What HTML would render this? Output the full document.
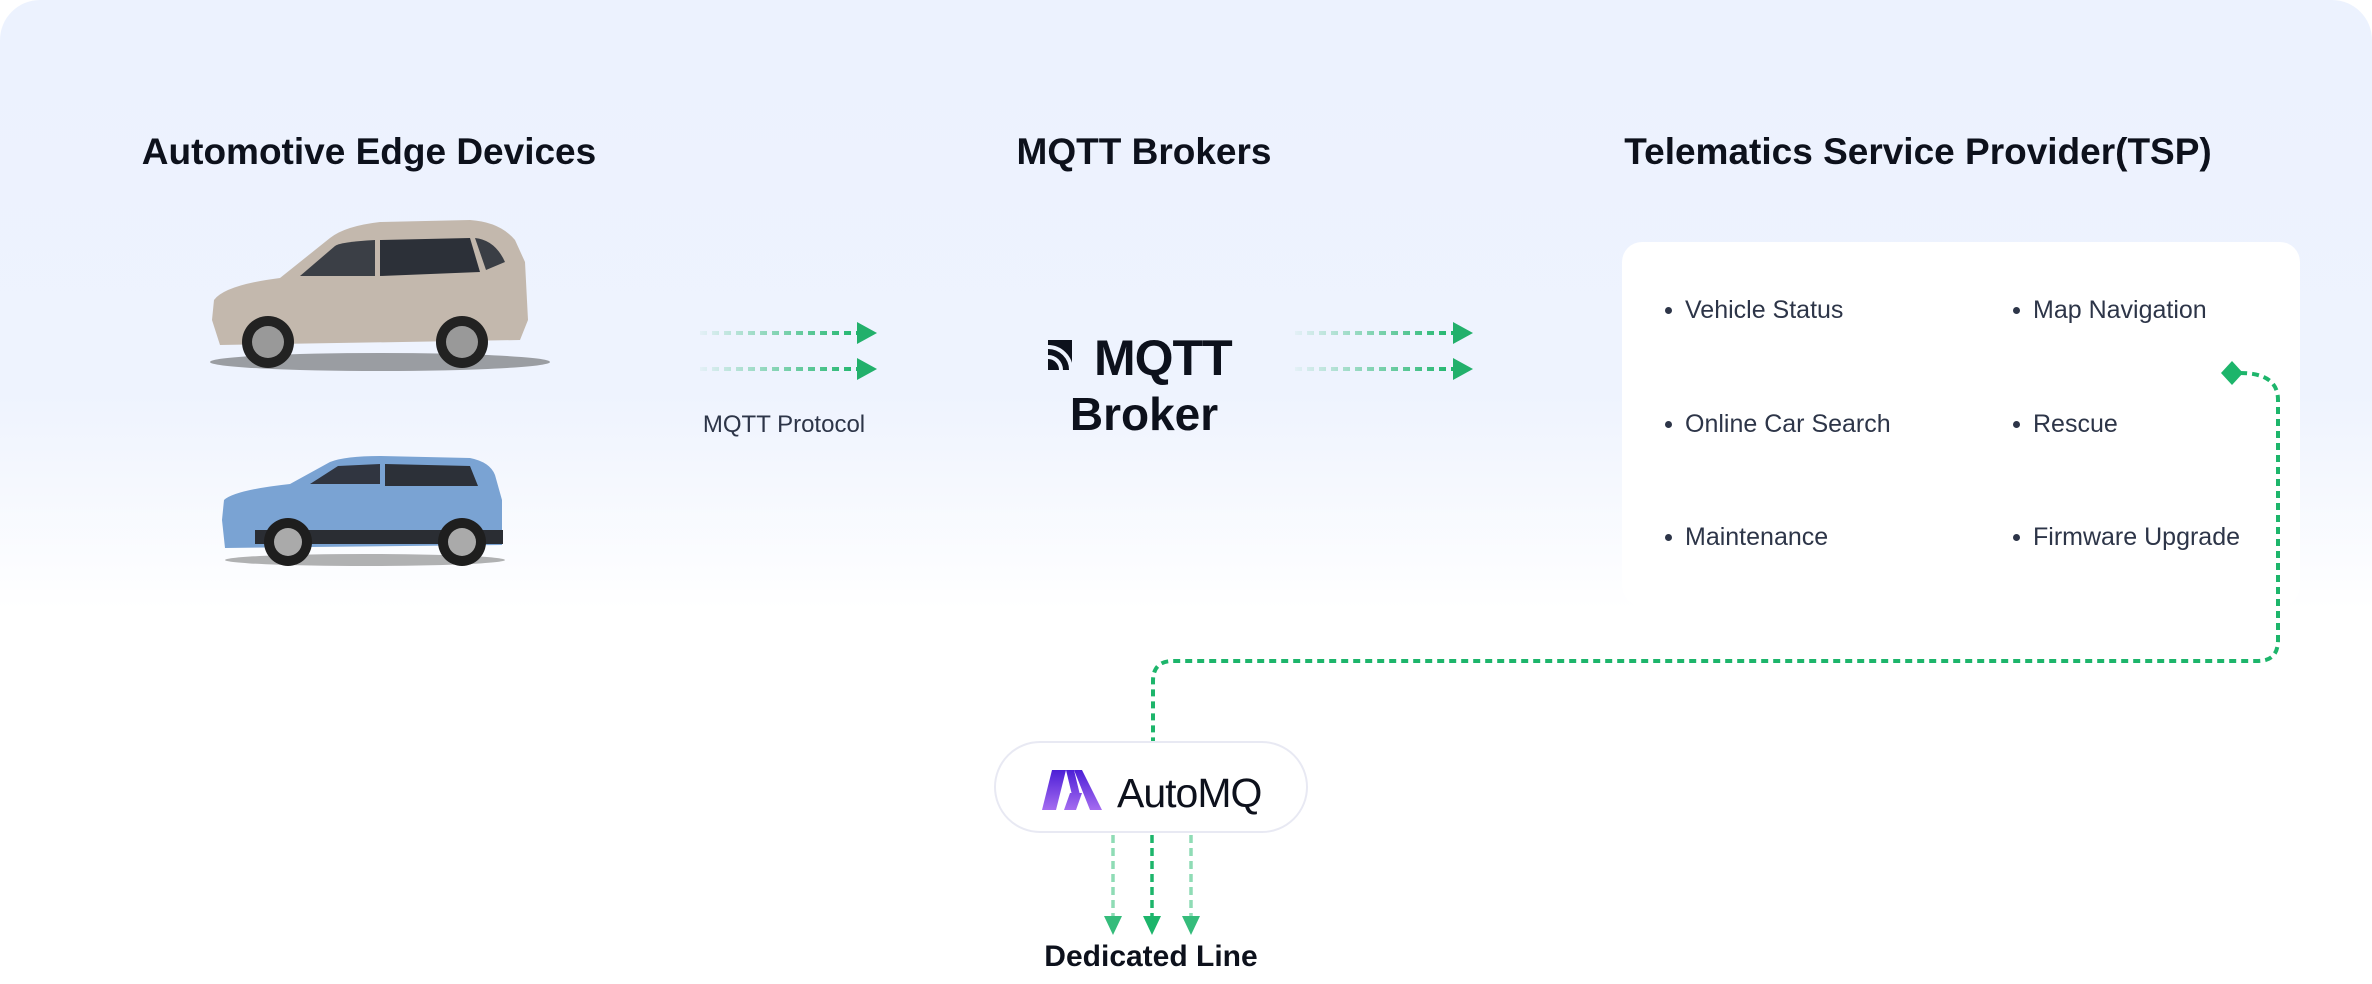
<!DOCTYPE html>
<html><head><meta charset="utf-8"><style>
html,body{margin:0;padding:0;background:#fff}
#c{position:relative;width:2372px;height:984px;overflow:hidden;border-radius:40px 40px 0 0;background:linear-gradient(180deg,#ecf2fe 0%,#eef3fe 40%,#ffffff 62%,#ffffff 100%);font-family:"Liberation Sans",sans-serif}
.t{position:absolute;font-weight:bold;color:#0d111c;white-space:nowrap;transform:translateX(-50%)}
.box{position:absolute;left:1622px;top:242px;width:678px;height:364px;background:#fff;border-radius:20px}
.li{position:absolute;font-size:25px;line-height:30px;color:#2d3548;white-space:nowrap}
.li:before{content:"";position:absolute;left:-20px;top:12px;width:7px;height:7px;border-radius:50%;background:#2d3548}
.pill{position:absolute;left:994px;top:741px;width:314px;height:92px;border:2px solid #e8e9f3;border-radius:48px;background:#fff;box-sizing:border-box}
</style></head><body><div id="c">
<div class="t" style="left:369px;top:131px;font-size:37px">Automotive Edge Devices</div>
<div class="t" style="left:1144px;top:131px;font-size:37px">MQTT Brokers</div>
<div class="t" style="left:1918px;top:131px;font-size:37px">Telematics Service Provider(TSP)</div>

<svg width="2372" height="984" style="position:absolute;left:0;top:0">
<defs>
<linearGradient id="fg1" gradientUnits="userSpaceOnUse" x1="700" y1="0" x2="860" y2="0"><stop offset="0" stop-color="#1db56b" stop-opacity="0.05"/><stop offset="1" stop-color="#1db56b"/></linearGradient>
<linearGradient id="fg2" gradientUnits="userSpaceOnUse" x1="1295" y1="0" x2="1455" y2="0"><stop offset="0" stop-color="#1db56b" stop-opacity="0.05"/><stop offset="1" stop-color="#1db56b"/></linearGradient>
<linearGradient id="mg" gradientUnits="userSpaceOnUse" x1="0" y1="770" x2="0" y2="810"><stop offset="0" stop-color="#4c1fd6"/><stop offset="1" stop-color="#a56cf0"/></linearGradient>
</defs>
<!-- car 1 -->
<g>
<ellipse cx="380" cy="362" rx="170" ry="9" fill="#555" opacity="0.55"/>
<path d="M212 320 L214 300 Q225 285 280 278 L330 238 Q345 226 380 222 L470 220 Q500 222 515 240 L525 262 L528 320 L520 340 L220 345 Z" fill="#c3b8ad"/>
<path d="M300 276 L335 246 Q340 242 375 240 L375 276 Z" fill="#3b3f46"/>
<path d="M380 240 L470 238 L480 272 L380 276 Z" fill="#2c3038"/>
<path d="M475 238 Q495 240 505 262 L486 270 Z" fill="#3a3e45"/>
<circle cx="268" cy="342" r="26" fill="#222"/><circle cx="268" cy="342" r="16" fill="#999"/>
<circle cx="462" cy="342" r="26" fill="#222"/><circle cx="462" cy="342" r="16" fill="#999"/>
</g>
<!-- car 2 -->
<g>
<ellipse cx="365" cy="560" rx="140" ry="6" fill="#666" opacity="0.5"/>
<path d="M222 520 L224 500 Q235 490 290 484 L330 462 Q345 456 380 456 L470 458 Q490 462 495 475 L502 500 L502 545 L225 548 Z" fill="#7aa3d3"/>
<path d="M310 484 L338 466 L380 464 L380 484 Z" fill="#303540"/>
<path d="M385 464 L470 466 L478 486 L385 486 Z" fill="#2c3038"/>
<rect x="255" y="530" width="248" height="14" fill="#2a2d33"/>
<circle cx="288" cy="542" r="24" fill="#1e1e1e"/><circle cx="288" cy="542" r="14" fill="#aaa"/>
<circle cx="462" cy="542" r="24" fill="#1e1e1e"/><circle cx="462" cy="542" r="14" fill="#aaa"/>
</g>
<g stroke-width="4" stroke-dasharray="7 5" fill="none">
<line x1="700" y1="333" x2="860" y2="333" stroke="url(#fg1)"/><line x1="700" y1="369" x2="860" y2="369" stroke="url(#fg1)"/>
<line x1="1295" y1="333" x2="1455" y2="333" stroke="url(#fg2)"/><line x1="1295" y1="369" x2="1455" y2="369" stroke="url(#fg2)"/>
</g>
<g fill="#22b06b">
<polygon points="857,322 877,333 857,344"/><polygon points="857,358 877,369 857,380"/>
<polygon points="1453,322 1473,333 1453,344"/><polygon points="1453,358 1473,369 1453,380"/>
</g>
<!-- MQTT icon -->
<rect x="1048" y="340" width="24" height="30" fill="#0d111c"/>
<g fill="none" stroke="#eef3fe" stroke-width="4">
<path d="M1048 357 A13 13 0 0 1 1061 370"/><path d="M1048 347 A23 23 0 0 1 1071 370"/>
</g>
</svg>
<div style="position:absolute;left:1094px;top:330px;font-size:50px;font-weight:bold;color:#0d111c;letter-spacing:-1px;line-height:56px">MQTT</div>
<div class="t" style="left:1144px;top:387px;font-size:46px">Broker</div>
<div class="t" style="left:784px;top:411px;font-size:24px;font-weight:normal;color:#2d3548">MQTT Protocol</div>

<div class="box"></div>
<div class="li" style="left:1685px;top:295px">Vehicle Status</div>
<div class="li" style="left:2033px;top:295px">Map Navigation</div>
<div class="li" style="left:1685px;top:409px">Online Car Search</div>
<div class="li" style="left:2033px;top:409px">Rescue</div>
<div class="li" style="left:1685px;top:522px">Maintenance</div>
<div class="li" style="left:2033px;top:522px">Firmware Upgrade</div>

<div class="pill"></div>
<svg width="2372" height="984" style="position:absolute;left:0;top:0">
<path d="M2240 373 Q2278 373 2278 400 L2278 640 Q2278 661 2258 661 L1173 661 Q1153 661 1153 681 L1153 741" fill="none" stroke="#1db56b" stroke-width="4" stroke-dasharray="7 5"/>
<polygon points="2232,361 2243,373 2232,385 2221,373" fill="#1db56b"/>
<g stroke-width="3.5" stroke-dasharray="8 5" fill="none">
<line x1="1113" y1="835" x2="1113" y2="920" stroke="#8fdcb5"/>
<line x1="1152" y1="835" x2="1152" y2="920" stroke="#1db56b"/>
<line x1="1191" y1="835" x2="1191" y2="920" stroke="#8fdcb5"/>
</g>
<polygon points="1104,916 1122,916 1113,935" fill="#35bc7b"/>
<polygon points="1143,916 1161,916 1152,935" fill="#1db56b"/>
<polygon points="1182,916 1200,916 1191,935" fill="#35bc7b"/>
<g fill="url(#mg)">
<polygon points="1052,770 1066,770 1056,810 1042,810"/>
<polygon points="1066,770 1074,770 1080,795 1072,795"/>
<polygon points="1070,793 1082,793 1076,810 1064,810"/>
<polygon points="1074,770 1082,770 1102,810 1090,810"/>
</g>
</svg>
<div style="position:absolute;left:1117px;top:770px;font-size:41px;color:#0d111c;letter-spacing:-1px;font-family:'Liberation Sans',sans-serif">AutoMQ</div>
<div class="t" style="left:1151px;top:940px;font-size:30px">Dedicated Line</div>
</div></body></html>
